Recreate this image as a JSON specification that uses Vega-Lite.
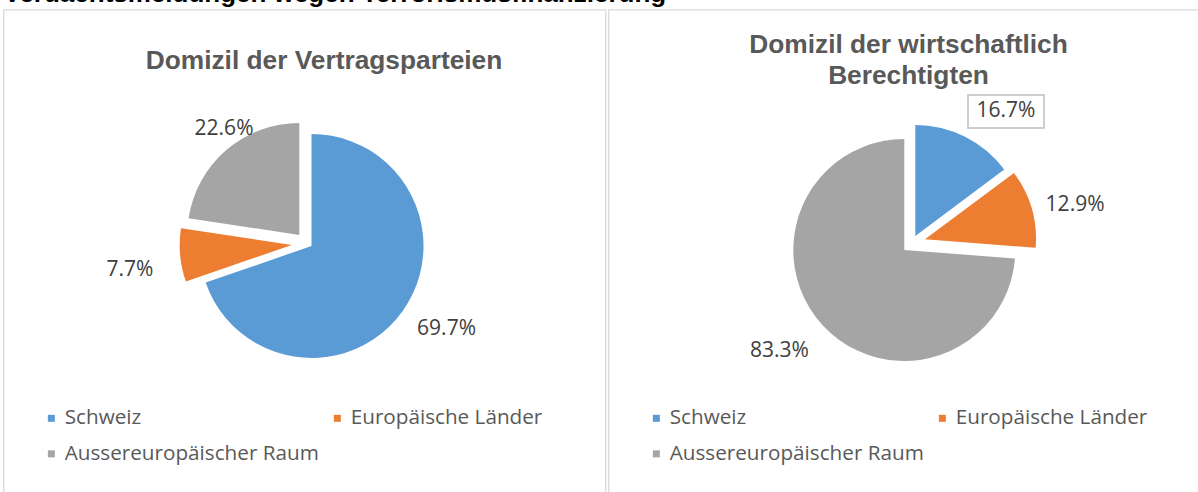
{
  "$schema": "https://vega.github.io/schema/vega-lite/v6.json",
  "autosize": "none",
  "padding": {"left": 3.5, "top": 9.5, "right": 1194.5, "bottom": 482.5},
  "background": "white",
  "title": {"text": "Verdachtsmeldungen wegen Terrorismusfinanzierung", "anchor": "start", "font": "Liberation Sans", "fontSize": 26, "fontWeight": "bold", "color": "#000000", "baseline": "alphabetic", "offset": -19, "frame": "group"},
  "spacing": 1,
  "resolve": {"scale": {"color": "independent", "theta": "independent", "x": "independent", "y": "independent"}, "legend": {"color": "independent"}},
  "config": {
    "view": {"stroke": "#d9d9d9", "strokeWidth": 1.25},
    "legend": {"orient": "none", "legendX": 37.5, "legendY": 398, "columns": 2, "direction": "horizontal", "symbolType": "square", "symbolSize": 49, "symbolStrokeWidth": 0, "symbolOpacity": 1, "labelFont": "Open Sans", "labelFontSize": 20.7, "labelColor": "#595959", "labelOffset": 3, "columnPadding": 8, "rowPadding": 14, "labelLimit": 400, "padding": 0}
  },
  "hconcat": [
    {
      "width": 602,
      "height": 500,
      "title": {"text": "Domizil der Vertragsparteien", "font": "Liberation Sans", "fontSize": 26.3, "fontWeight": "bold", "color": "#595959", "baseline": "alphabetic", "offset": -85.5, "dx": 19.5, "frame": "group"},
      "data": {"values": [
        {"cat": "Schweiz", "share": 0.697, "ord": 1},
        {"cat": "Europäische Länder", "share": 0.077, "ord": 2},
        {"cat": "Aussereuropäischer Raum", "share": 0.226, "ord": 3}
      ]},
      "encoding": {
        "x": {"datum": 0, "type": "quantitative", "scale": {"domain": [-1, 1]}, "axis": null},
        "y": {"datum": 0, "type": "quantitative", "scale": {"domain": [-1, 1]}, "axis": null}
      },
      "layer": [
        {"mark": {"type": "arc", "outerRadius": 112, "xOffset": 7, "yOffset": -13.5},
         "encoding": {"theta": {"field": "share", "type": "quantitative", "stack": true}, "order": {"field": "ord", "type": "quantitative"},
           "color": {"field": "cat", "type": "nominal", "scale": {"domain": ["Schweiz", "Europäische Länder", "Aussereuropäischer Raum"], "range": ["#5B9BD5", "#ED7D31", "#A5A5A5"]}, "legend": {"title": null}},
           "opacity": {"condition": {"test": "datum.cat === 'Schweiz'", "value": 1}, "value": 0}}},
        {"mark": {"type": "arc", "outerRadius": 112, "xOffset": -12.8, "yOffset": -14.5},
         "encoding": {"theta": {"field": "share", "type": "quantitative", "stack": true}, "order": {"field": "ord", "type": "quantitative"},
           "color": {"field": "cat", "type": "nominal", "scale": {"domain": ["Schweiz", "Europäische Länder", "Aussereuropäischer Raum"], "range": ["#5B9BD5", "#ED7D31", "#A5A5A5"]}, "legend": {"title": null}},
           "opacity": {"condition": {"test": "datum.cat === 'Europäische Länder'", "value": 1}, "value": 0}}},
        {"mark": {"type": "arc", "outerRadius": 112, "xOffset": -5.2, "yOffset": -24.5},
         "encoding": {"theta": {"field": "share", "type": "quantitative", "stack": true}, "order": {"field": "ord", "type": "quantitative"},
           "color": {"field": "cat", "type": "nominal", "scale": {"domain": ["Schweiz", "Europäische Länder", "Aussereuropäischer Raum"], "range": ["#5B9BD5", "#ED7D31", "#A5A5A5"]}, "legend": {"title": null}},
           "opacity": {"condition": {"test": "datum.cat === 'Aussereuropäischer Raum'", "value": 1}, "value": 0}}},
        {"mark": {"type": "text", "radius": 155, "xOffset": 15.8, "yOffset": -20.5, "font": "Open Sans", "fontSize": 21, "fill": "#404040", "align": "center", "baseline": "middle"},
         "encoding": {"theta": {"field": "share", "type": "quantitative", "stack": true}, "order": {"field": "ord", "type": "quantitative"}, "detail": {"field": "cat"},
           "text": {"field": "share", "type": "quantitative", "format": ".1%"},
           "opacity": {"condition": {"test": "datum.cat === 'Schweiz'", "value": 1}, "value": 0}}},
        {"mark": {"type": "text", "radius": 180, "xOffset": 4.8, "yOffset": -5.8, "font": "Open Sans", "fontSize": 21, "fill": "#404040", "align": "center", "baseline": "middle"},
         "encoding": {"theta": {"field": "share", "type": "quantitative", "stack": true}, "order": {"field": "ord", "type": "quantitative"}, "detail": {"field": "cat"},
           "text": {"field": "share", "type": "quantitative", "format": ".1%"},
           "opacity": {"condition": {"test": "datum.cat === 'Europäische Länder'", "value": 1}, "value": 0}}},
        {"mark": {"type": "text", "radius": 140, "xOffset": 10.8, "yOffset": -24.4, "font": "Open Sans", "fontSize": 21, "fill": "#404040", "align": "center", "baseline": "middle"},
         "encoding": {"theta": {"field": "share", "type": "quantitative", "stack": true}, "order": {"field": "ord", "type": "quantitative"}, "detail": {"field": "cat"},
           "text": {"field": "share", "type": "quantitative", "format": ".1%"},
           "opacity": {"condition": {"test": "datum.cat === 'Aussereuropäischer Raum'", "value": 1}, "value": 0}}}
      ]
    },
    {
      "width": 600,
      "height": 500,
      "title": {"text": ["Domizil der wirtschaftlich", "Berechtigten"], "font": "Liberation Sans", "fontSize": 26.3, "fontWeight": "bold", "color": "#595959", "baseline": "alphabetic", "lineHeight": 31, "offset": -101, "frame": "group"},
      "data": {"values": [
        {"cat": "Schweiz", "share": 0.167, "ord": 1},
        {"cat": "Europäische Länder", "share": 0.129, "ord": 2},
        {"cat": "Aussereuropäischer Raum", "share": 0.833, "ord": 3}
      ]},
      "encoding": {
        "x": {"datum": 0, "type": "quantitative", "scale": {"domain": [-1, 1]}, "axis": null},
        "y": {"datum": 0, "type": "quantitative", "scale": {"domain": [-1, 1]}, "axis": null}
      },
      "layer": [
        {"mark": {"type": "arc", "outerRadius": 111, "xOffset": 6.8, "yOffset": -23.5},
         "encoding": {"theta": {"field": "share", "type": "quantitative", "stack": true}, "order": {"field": "ord", "type": "quantitative"},
           "color": {"field": "cat", "type": "nominal", "scale": {"domain": ["Schweiz", "Europäische Länder", "Aussereuropäischer Raum"], "range": ["#5B9BD5", "#ED7D31", "#A5A5A5"]}, "legend": {"title": null}},
           "opacity": {"condition": {"test": "datum.cat === 'Schweiz'", "value": 1}, "value": 0}}},
        {"mark": {"type": "arc", "outerRadius": 111, "xOffset": 16.5, "yOffset": -20.2},
         "encoding": {"theta": {"field": "share", "type": "quantitative", "stack": true}, "order": {"field": "ord", "type": "quantitative"},
           "color": {"field": "cat", "type": "nominal", "scale": {"domain": ["Schweiz", "Europäische Länder", "Aussereuropäischer Raum"], "range": ["#5B9BD5", "#ED7D31", "#A5A5A5"]}, "legend": {"title": null}},
           "opacity": {"condition": {"test": "datum.cat === 'Europäische Länder'", "value": 1}, "value": 0}}},
        {"mark": {"type": "arc", "outerRadius": 111, "xOffset": -4.2, "yOffset": -9.5},
         "encoding": {"theta": {"field": "share", "type": "quantitative", "stack": true}, "order": {"field": "ord", "type": "quantitative"},
           "color": {"field": "cat", "type": "nominal", "scale": {"domain": ["Schweiz", "Europäische Länder", "Aussereuropäischer Raum"], "range": ["#5B9BD5", "#ED7D31", "#A5A5A5"]}, "legend": {"title": null}},
           "opacity": {"condition": {"test": "datum.cat === 'Aussereuropäischer Raum'", "value": 1}, "value": 0}}},
        {"transform": [{"filter": "datum.cat === 'Schweiz'"}],
         "mark": {"type": "point", "shape": "M-1,-0.434L1,-0.434L1,0.434L-1,0.434Z", "size": 5776, "filled": true, "fill": "white", "stroke": "#bfbfbf", "strokeWidth": 1.5, "opacity": 1, "xOffset": 97.5, "yOffset": -148}},
        {"mark": {"type": "text", "radius": 160, "xOffset": 25.8, "yOffset": -5, "font": "Open Sans", "fontSize": 21, "fill": "#404040", "align": "center", "baseline": "middle"},
         "encoding": {"theta": {"field": "share", "type": "quantitative", "stack": true}, "order": {"field": "ord", "type": "quantitative"}, "detail": {"field": "cat"},
           "text": {"field": "share", "type": "quantitative", "format": ".1%"},
           "opacity": {"condition": {"test": "datum.cat === 'Schweiz'", "value": 1}, "value": 0}}},
        {"mark": {"type": "text", "radius": 175, "xOffset": -1.5, "yOffset": -6.2, "font": "Open Sans", "fontSize": 21, "fill": "#404040", "align": "center", "baseline": "middle"},
         "encoding": {"theta": {"field": "share", "type": "quantitative", "stack": true}, "order": {"field": "ord", "type": "quantitative"}, "detail": {"field": "cat"},
           "text": {"field": "share", "type": "quantitative", "format": ".1%"},
           "opacity": {"condition": {"test": "datum.cat === 'Europäische Länder'", "value": 1}, "value": 0}}},
        {"mark": {"type": "text", "radius": 160, "xOffset": -11.6, "yOffset": -17.1, "font": "Open Sans", "fontSize": 21, "fill": "#404040", "align": "center", "baseline": "middle"},
         "encoding": {"theta": {"field": "share", "type": "quantitative", "stack": true}, "order": {"field": "ord", "type": "quantitative"}, "detail": {"field": "cat"},
           "text": {"field": "share", "type": "quantitative", "format": ".1%"},
           "opacity": {"condition": {"test": "datum.cat === 'Aussereuropäischer Raum'", "value": 1}, "value": 0}}}
      ]
    }
  ]
}
